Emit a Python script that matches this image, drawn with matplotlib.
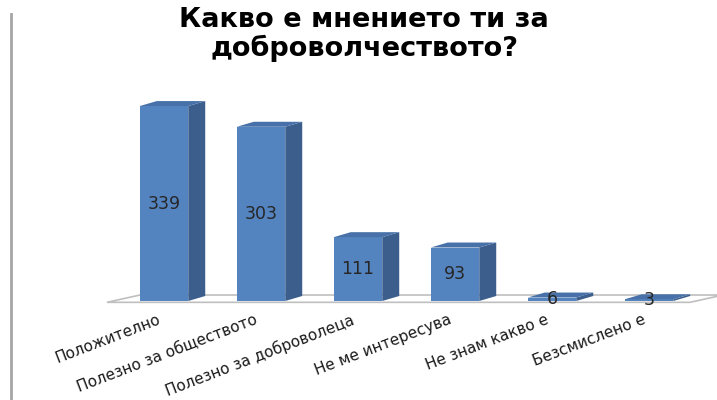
import matplotlib
matplotlib.use("Agg")
import matplotlib.pyplot as plt
from matplotlib.patches import Polygon
from matplotlib.lines import Line2D

# data
categories = ["Положително", "Полезно за обществото", "Полезно за доброволеца",
              "Не ме интересува", "Не знам какво е", "Безсмислено е"]
values = [339, 303, 111, 93, 6, 3]
title_lines = ["Какво е мнението ти за", "доброволчеството?"]

front_col = "#5484c0"
side_col = "#3b5e8c"
top_col = "#4771a8"

fig = plt.figure(figsize=(7.17, 4.0), dpi=100)
ax = fig.add_axes([115.5 / 717, 99 / 400, 582 / 717, 230 / 400])
ax.set_xlim(-0.5, 5.5)
ax.set_ylim(0, 400)
ax.axis("off")

# 3d look: depth offsets in data units
w = 0.5
dx = 0.175
dy = 8.7

# floor
fdx, fy0, fy1 = 0.34, -2.3, 10.4
floor = Polygon([(-0.588, fy0), (5.423, fy0), (5.423 + fdx, fy1), (-0.588 + fdx, fy1)],
                closed=True, facecolor="white", edgecolor="#bfbfbf", lw=1.2,
                clip_on=False, zorder=1)
ax.add_patch(floor)

xs = list(range(len(values)))
ax.bar(xs, values, width=w, color=front_col, zorder=3, clip_on=False)
for x, v in zip(xs, values):
    r = x + w / 2
    l = x - w / 2
    side = Polygon([(r, 0), (r + dx, dy), (r + dx, v + dy), (r, v)],
                   facecolor=side_col, edgecolor="none", zorder=3, clip_on=False)
    top = Polygon([(l, v), (r, v), (r + dx, v + dy), (l + dx, v + dy)],
                  facecolor=top_col, edgecolor="none", zorder=3, clip_on=False)
    ax.add_patch(side)
    ax.add_patch(top)
    ax.text(x, v / 2, str(v), ha="center", va="center", fontsize=12.5,
            color="#262626", zorder=5)

# category labels
for x, c in zip(xs, categories):
    ax.annotate(c, xy=(x - 0.07, 0), xytext=(0, -11), textcoords="offset pixels",
                ha="right", va="top", rotation=21, rotation_mode="anchor",
                fontsize=11, color="#1a1a1a", annotation_clip=False)

# title
fig.text(364 / 717, 1 - 20 / 400, title_lines[0], ha="center", va="center",
         fontsize=19.5, fontweight="bold")
fig.text(364 / 717, 1 - 48 / 400, title_lines[1], ha="center", va="center",
         fontsize=19.5, fontweight="bold")

# left border line of the chart area
fig.add_artist(Line2D([11 / 717, 11 / 717], [0, 1 - 14 / 400], color="#a6a6a6", lw=2))

fig.savefig("out.png", dpi=100)
